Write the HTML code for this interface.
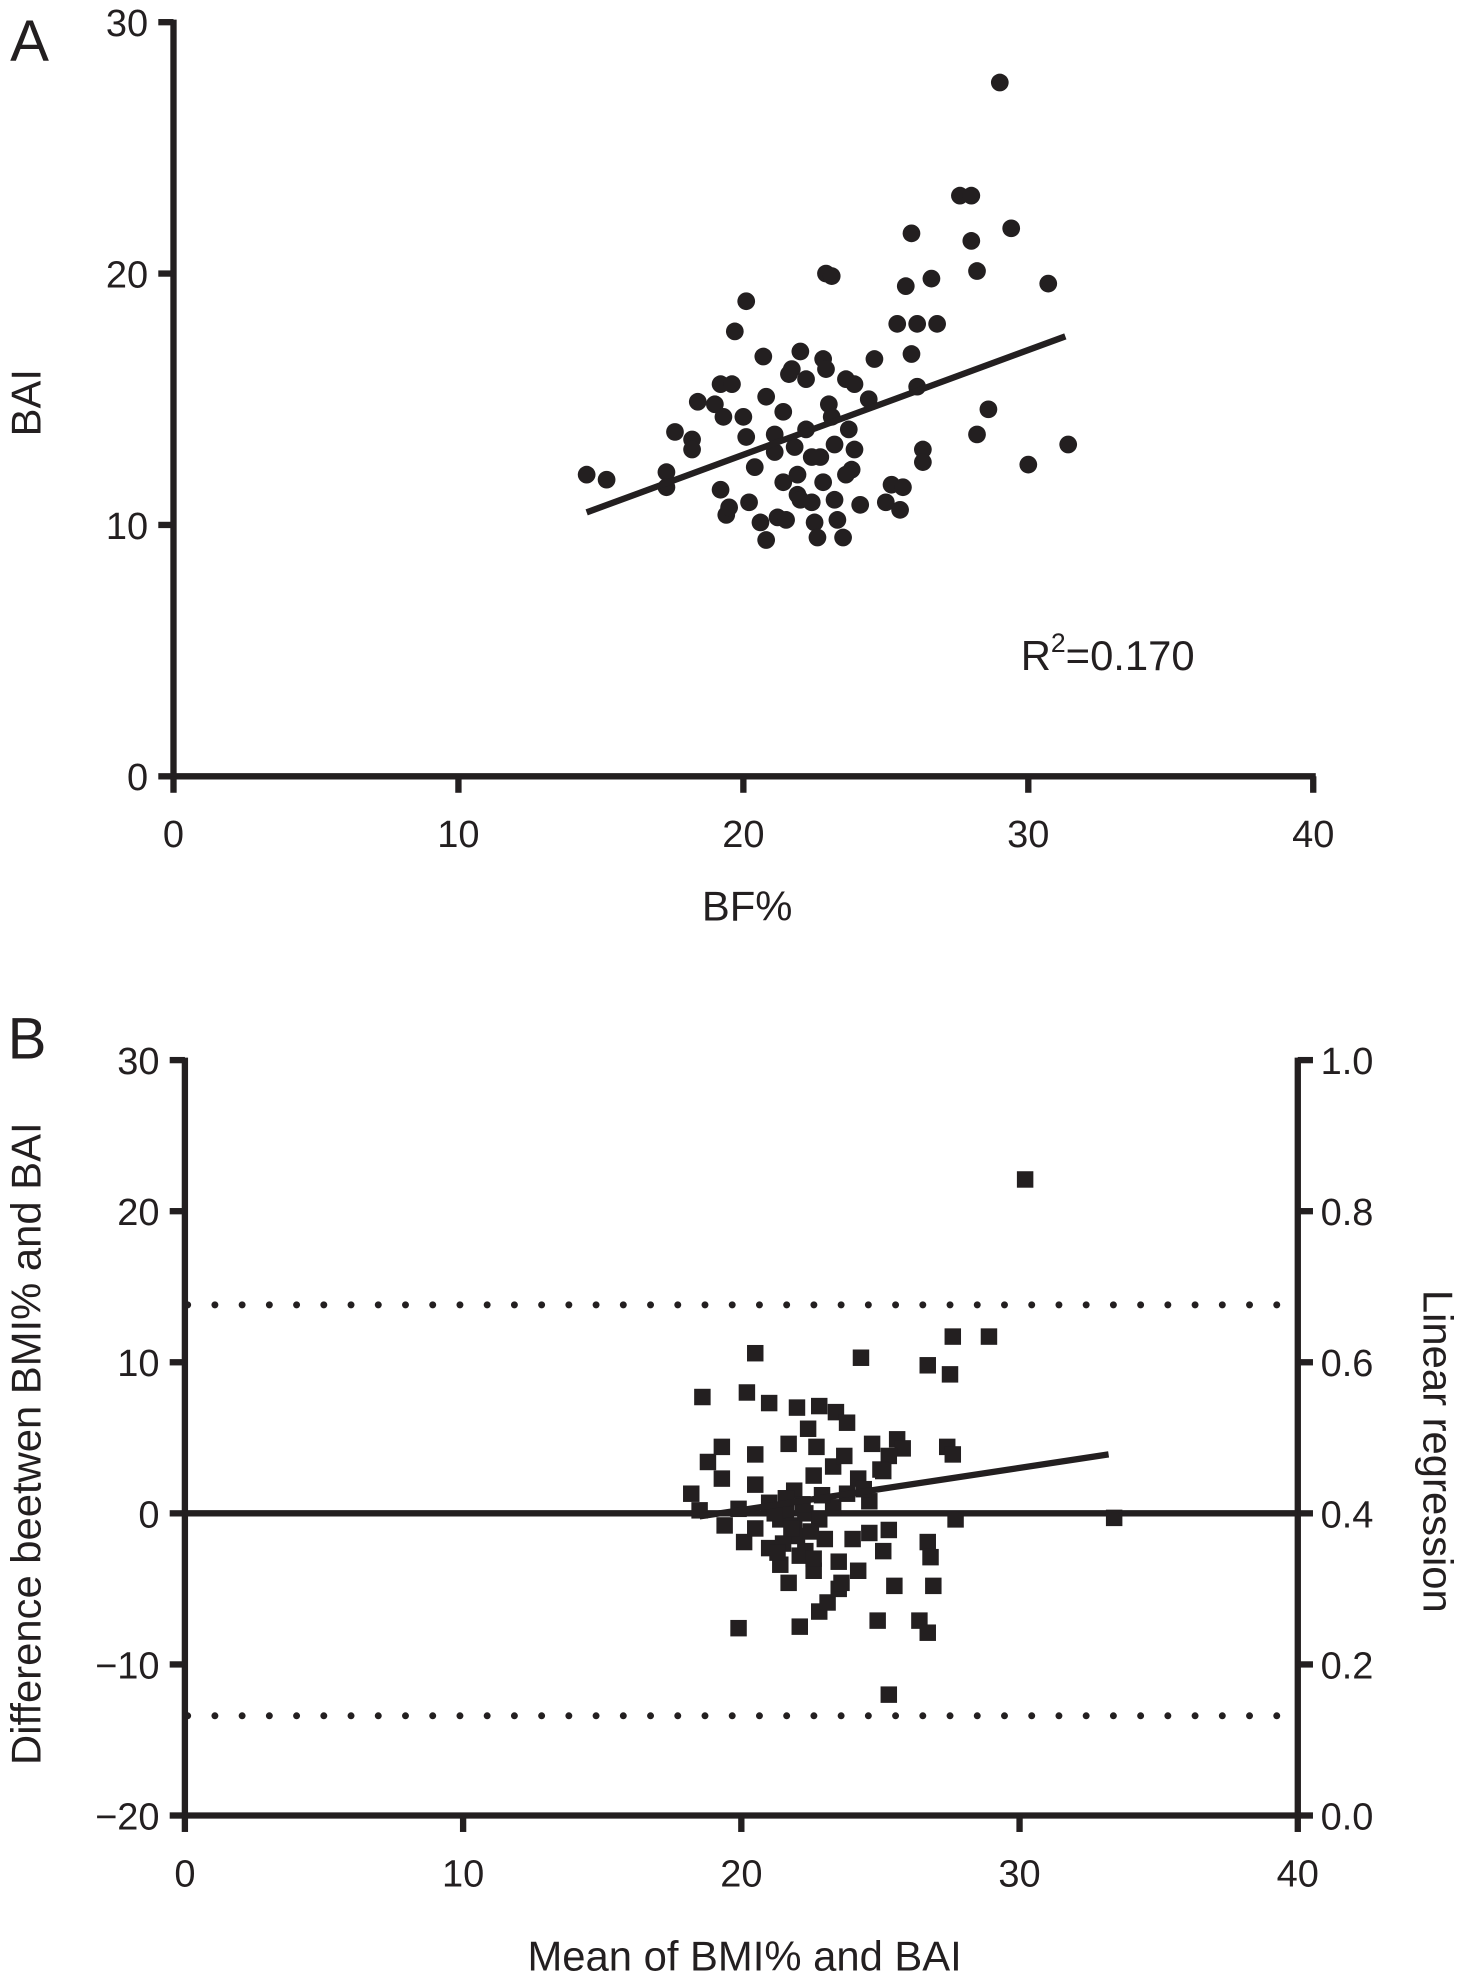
<!DOCTYPE html>
<html><head><meta charset="utf-8"><style>
html,body{margin:0;padding:0;background:#fff}
svg{display:block}
text{font-family:"Liberation Sans Narrow","Liberation Sans",sans-serif;fill:#231f20}
</style></head><body>
<svg id="fig" width="1469" height="1987" viewBox="0 0 1160 1569" xmlns="http://www.w3.org/2000/svg">
<g id="A"></g>
<g id="B"></g>
</svg>
<script>
// Panel A data
const aX = [14.5,15.2,17.3,17.3,17.6,18.2,18.2,18.4,19.0,19.2,19.6,19.3,19.2,19.4,19.5,19.7,20.1,20.0,20.1,20.2,20.4,20.6,20.7,20.8,21.1,21.1,20.8,21.2,21.5,21.4,21.6,21.7,21.8,21.9,21.9,22.0,22.2,22.2,22.4,22.5,22.6,22.7,22.8,22.9,22.9,23.1,23.0,23.1,23.2,23.3,23.5,23.6,23.7,23.9,23.8,23.9,24.1,24.4,24.6,25.0,25.2,25.4,25.5,25.6,25.7,25.9,25.9,26.1,26.1,26.3,26.3,26.6,26.8,27.6,28.0,28.0,28.2,28.2,28.6,29.0,29.4,30.0,30.7,31.4,22.4,22.0,21.4,23.2,23.6,22.8];
const aY = [12.0,11.8,12.1,11.5,13.7,13.4,13.0,14.9,14.8,15.6,15.6,14.3,11.4,10.4,10.7,17.7,18.9,14.3,13.5,10.9,12.3,10.1,16.7,15.1,12.9,13.6,9.4,10.3,10.2,14.5,16.0,16.2,13.1,12.0,11.2,16.9,15.8,13.8,10.9,10.1,9.5,12.7,16.6,16.2,20.0,19.9,14.8,14.3,13.2,10.2,9.5,15.8,13.8,13.0,12.2,15.6,10.8,15.0,16.6,10.9,11.6,18.0,10.6,11.5,19.5,21.6,16.8,18.0,15.5,13.0,12.5,19.8,18.0,23.1,23.1,21.3,20.1,13.6,14.6,27.6,21.8,12.4,19.6,13.2,12.7,11.0,11.7,11.0,12.0,11.7];
const aFitX = [14.5,31.3];
const aFitY = [10.5,17.5];
const aXTicks = [0,10,20,30,40];
const aYTicks = [0,10,20,30];
// Panel B data
const bX = [30.2,28.9,27.6,27.5,26.7,24.3,20.5,18.6,20.2,21.0,22.0,22.8,23.4,23.8,22.4,25.6,25.8,25.3,25.0,24.7,22.7,21.7,19.3,20.5,18.8,19.3,20.5,18.2,18.5,19.9,21.0,21.9,22.6,23.3,23.7,24.2,24.6,27.4,27.6,25.1,19.4,20.1,20.5,21.0,21.4,21.7,21.9,22.3,22.6,23.0,23.5,24.0,24.2,24.6,25.1,25.5,25.3,26.7,26.8,26.9,27.7,26.4,26.7,24.9,19.9,22.1,22.8,23.1,23.5,23.6,25.3,33.4,21.4,21.6,21.9,22.3,22.8,23.3,21.2,22.0,21.5,21.8,22.1,22.5,21.6,22.2,22.9,23.8,24.4,21.3,22.6];
const bY = [22.1,11.7,11.7,9.2,9.8,10.3,10.6,7.7,8.0,7.3,7.0,7.1,6.7,6.0,5.6,4.9,4.3,3.8,2.9,4.6,4.4,4.6,4.4,3.9,3.4,2.3,1.9,1.3,0.2,0.3,0.7,1.5,2.5,3.1,3.8,2.3,0.8,4.4,3.9,2.8,-0.8,-1.9,-1.0,-2.3,-3.4,-4.6,-1.3,-2.5,-3.8,-1.7,-3.2,-1.7,-3.8,-1.3,-2.5,-4.8,-1.1,-1.9,-2.9,-4.8,-0.4,-7.1,-7.9,-7.1,-7.6,-7.5,-6.5,-5.9,-5.0,-4.6,-12.0,-0.3,-0.4,0.2,-0.8,0.0,-0.4,0.4,0.0,-1.5,-2.0,-1.0,-2.8,-1.2,1.0,0.6,1.2,1.3,1.6,-2.6,-3.0];
const bFitX = [18.5,33.2];
const bFitY = [-0.2,3.9];
const bLimits = [13.8,-13.4];
const bXTicks = [0,10,20,30,40];
const bYTicks = [-20,-10,0,10,20,30];
const bRTicks = ["0.0","0.2","0.4","0.6","0.8","1.0"];

const NS="http://www.w3.org/2000/svg";
function mk(parent,tag,attrs,txt){const e=document.createElementNS(NS,tag);for(const k in attrs)e.setAttribute(k,attrs[k]);if(txt!==undefined)e.textContent=txt;parent.appendChild(e);return e;}
const SW=5, FS=30;

// ---- Panel A ----
const gA=document.getElementById('A');
const ax=v=>137+v*22.5, ay=v=>613-v*19.85;
let e;
e=mk(gA,'line',{x1:ax(0),y1:ay(0),x2:ax(0),y2:ay(30)-2,stroke:'#231f20','stroke-width':SW});


e=mk(gA,'line',{x1:ax(0)-2,y1:ay(0),x2:ax(40)+2,y2:ay(0),stroke:'#231f20','stroke-width':SW});


aYTicks.forEach(v=>{
  mk(gA,'line',{x1:ax(0)-12,y1:ay(v),x2:ax(0),y2:ay(v),stroke:'#231f20','stroke-width':SW});
  e=mk(gA,'text',{x:ax(0)-20,y:ay(v)+11,'text-anchor':'end','font-size':FS},String(v));
  
  
});
aXTicks.forEach(v=>{
  mk(gA,'line',{x1:ax(v),y1:ay(0),x2:ax(v),y2:ay(0)+13,stroke:'#231f20','stroke-width':SW});
  e=mk(gA,'text',{x:ax(v),y:ay(0)+56,'text-anchor':'middle','font-size':FS},String(v));
  
  
});
aX.forEach((x,i)=>{
  e=mk(gA,'circle',{cx:ax(x),cy:ay(aY[i]),r:7,fill:'#231f20'});
  
  
});
e=mk(gA,'line',{x1:ax(aFitX[0]),y1:ay(aFitY[0]),x2:ax(aFitX[1]),y2:ay(aFitY[1]),stroke:'#231f20','stroke-width':SW});


e=mk(gA,'text',{x:8,y:48,'font-size':46},'A');


e=mk(gA,'text',{x:0,y:0,'font-size':33,'text-anchor':'middle',transform:'translate(32,318) rotate(-90)'},'BAI');


e=mk(gA,'text',{x:590,y:727,'font-size':33,'text-anchor':'middle'},'BF%');


e=mk(gA,'text',{x:806,y:529,'font-size':33});


mk(e,'tspan',{},'R');mk(e,'tspan',{'font-size':21,dy:-14},'2');mk(e,'tspan',{dy:14},'=0.170');

// ---- Panel B ----
const gB=document.getElementById('B');
const bx=v=>146+v*21.97, by=v=>1195-v*11.93;
const right=bx(40);
e=mk(gB,'line',{x1:bx(0),y1:by(-20),x2:bx(0),y2:by(30)-2,stroke:'#231f20','stroke-width':SW});


e=mk(gB,'line',{x1:right,y1:by(-20),x2:right,y2:by(30)-2,stroke:'#231f20','stroke-width':SW});


e=mk(gB,'line',{x1:bx(0)-2,y1:by(-20),x2:right+2,y2:by(-20),stroke:'#231f20','stroke-width':SW});


e=mk(gB,'line',{x1:bx(0),y1:by(0),x2:right,y2:by(0),stroke:'#231f20','stroke-width':SW});


bYTicks.forEach(v=>{
  mk(gB,'line',{x1:bx(0)-12,y1:by(v),x2:bx(0),y2:by(v),stroke:'#231f20','stroke-width':SW});
  e=mk(gB,'text',{x:bx(0)-20,y:by(v)+11,'text-anchor':'end','font-size':FS},v<0?'\u2212'+(-v):String(v));
  
  
});
bRTicks.forEach((t,i)=>{
  const y=by(-20+i*10);
  mk(gB,'line',{x1:right,y1:y,x2:right+12,y2:y,stroke:'#231f20','stroke-width':SW});
  e=mk(gB,'text',{x:right+18,y:y+11,'font-size':FS},t);
  
  
});
bXTicks.forEach(v=>{
  mk(gB,'line',{x1:bx(v),y1:by(-20),x2:bx(v),y2:by(-20)+13,stroke:'#231f20','stroke-width':SW});
  e=mk(gB,'text',{x:bx(v),y:by(-20)+56,'text-anchor':'middle','font-size':FS},String(v));
  
  
});
bLimits.forEach(v=>{
  e=mk(gB,'line',{x1:bx(0.1),y1:by(v),x2:bx(39.5),y2:by(v),stroke:'#231f20','stroke-width':5.5,'stroke-linecap':'round','stroke-dasharray':'0 21.5'});
  
  
});
bX.forEach((x,i)=>{
  e=mk(gB,'rect',{x:bx(x)-6.5,y:by(bY[i])-6.5,width:13,height:13,fill:'#231f20'});
  
  
});
e=mk(gB,'line',{x1:bx(bFitX[0]),y1:by(bFitY[0]),x2:bx(bFitX[1]),y2:by(bFitY[1]),stroke:'#231f20','stroke-width':SW});


e=mk(gB,'text',{x:6,y:836,'font-size':46},'B');


e=mk(gB,'text',{x:0,y:0,'font-size':33,'text-anchor':'middle',transform:'translate(32,1140) rotate(-90)'},'Difference beetwen BMI% and BAI');


e=mk(gB,'text',{x:0,y:0,'font-size':33,'text-anchor':'middle',transform:'translate(1124,1146) rotate(90)'},'Linear regression');


e=mk(gB,'text',{x:588,y:1556,'font-size':33,'text-anchor':'middle'},'Mean of BMI% and BAI');


</script>
</body></html>
